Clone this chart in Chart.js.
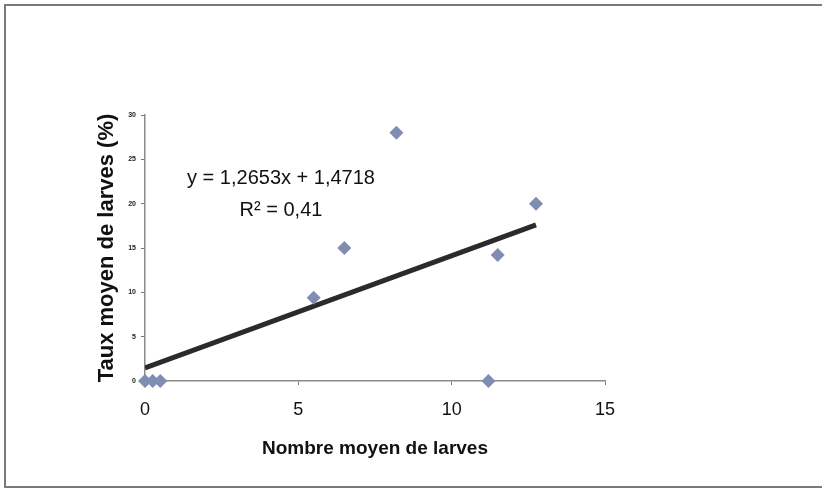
<!DOCTYPE html>
<html>
<head>
<meta charset="utf-8">
<script src="https://cdn.jsdelivr.net/npm/chart.js@4/dist/chart.umd.min.js"></script>
<style>
  html, body { margin: 0; padding: 0; background: #fff; overflow: hidden; }
  #wrap { position: relative; width: 822px; height: 493px; }
  #frame { position: absolute; left: 4px; top: 4px; width: 830px; height: 484px; border: 2px solid #7a7a7a; box-sizing: border-box; pointer-events: none; }
  canvas { position: absolute; left: 0; top: 0; }
</style>
</head>
<body>
<div id="wrap">
  <canvas id="c" width="822" height="493"></canvas>
  <div id="frame"></div>
</div>
<script>
// Data
const xValues = [0, 0.25, 0.5, 5.5, 6.5, 8.2, 11.2, 11.5, 12.75];
const yValues = [0, 0, 0, 9.4, 15, 28, 0, 14.2, 20];
const xTicks = [0, 5, 10, 15];
const yTicks = [0, 5, 10, 15, 20, 25, 30];
const slope = 1.2653;
const intercept = 1.4718;
const equationText = 'y = 1,2653x + 1,4718';
const r2Text = 'R² = 0,41';
const xTitle = 'Nombre moyen de larves';
const yTitle = 'Taux moyen de larves (%)';

const points = xValues.map((x, i) => ({ x: x, y: yValues[i] }));
const xMinData = Math.min(...xValues);
const xMaxData = Math.max(...xValues);
const trend = [
  { x: xMinData, y: slope * xMinData + intercept },
  { x: xMaxData, y: slope * xMaxData + intercept }
];

const FONT = 'Arial, "Liberation Sans", sans-serif';

const eqPlugin = {
  id: 'eq',
  afterDatasetsDraw(chart) {
    const ctx = chart.ctx;
    const xs = chart.scales.x, ys = chart.scales.y;
    ctx.save();
    ctx.fillStyle = '#111';
    ctx.font = '20px ' + FONT;
    ctx.textAlign = 'center';
    ctx.textBaseline = 'middle';
    const cx = xs.left + 136;
    ctx.fillText(equationText, cx, ys.top + 63);
    ctx.fillText(r2Text, cx, ys.top + 95);
    ctx.restore();
  }
};

new Chart(document.getElementById('c'), {
  type: 'scatter',
  data: {
    datasets: [
      {
        type: 'line',
        label: 'trend',
        data: trend,
        borderColor: '#2b2b2b',
        borderWidth: 5,
        pointRadius: 0,
        fill: false,
        order: 2
      },
      {
        label: 'points',
        data: points,
        pointStyle: 'rectRot',
        pointRadius: 7,
        pointHoverRadius: 7,
        backgroundColor: '#7f8db2',
        borderColor: '#7f8db2',
        borderWidth: 0,
        clip: false,
        order: 1
      }
    ]
  },
  plugins: [eqPlugin],
  options: {
    responsive: false,
    animation: false,
    events: [],
    layout: { padding: { left: 0, right: 217, top: 115, bottom: 0 } },
    plugins: { legend: { display: false }, tooltip: { enabled: false } },
    scales: {
      x: {
        type: 'linear',
        min: 0, max: 15,
        afterBuildTicks: (s) => { s.ticks = xTicks.map(v => ({ value: v })); },
        afterFit: (s) => { s.height = 112; },
        grid: { display: true, drawOnChartArea: false, drawTicks: true, tickLength: 4, color: '#777' },
        border: { display: true, color: '#8a8a8a', width: 1.5 },
        ticks: { color: '#111', font: { family: FONT, size: 18 }, padding: 14, maxRotation: 0 },
        title: { display: true, text: xTitle, color: '#111', font: { family: FONT, size: 19, weight: 'bold' }, padding: { top: 0, bottom: 33 } }
      },
      y: {
        type: 'linear',
        min: 0, max: 30,
        afterBuildTicks: (s) => { s.ticks = yTicks.map(v => ({ value: v })); },
        afterFit: (s) => { s.width = 145; },
        grid: { display: true, drawOnChartArea: false, drawTicks: true, tickLength: 4, color: '#777' },
        border: { display: true, color: '#8a8a8a', width: 1.5 },
        ticks: { color: '#222', font: { family: FONT, size: 7, weight: 'bold' }, padding: 5 },
        title: { display: true, text: yTitle, color: '#111', font: { family: FONT, size: 22, weight: 'bold' }, padding: { top: 94, bottom: 0 } }
      }
    }
  }
});
</script>
</body>
</html>
